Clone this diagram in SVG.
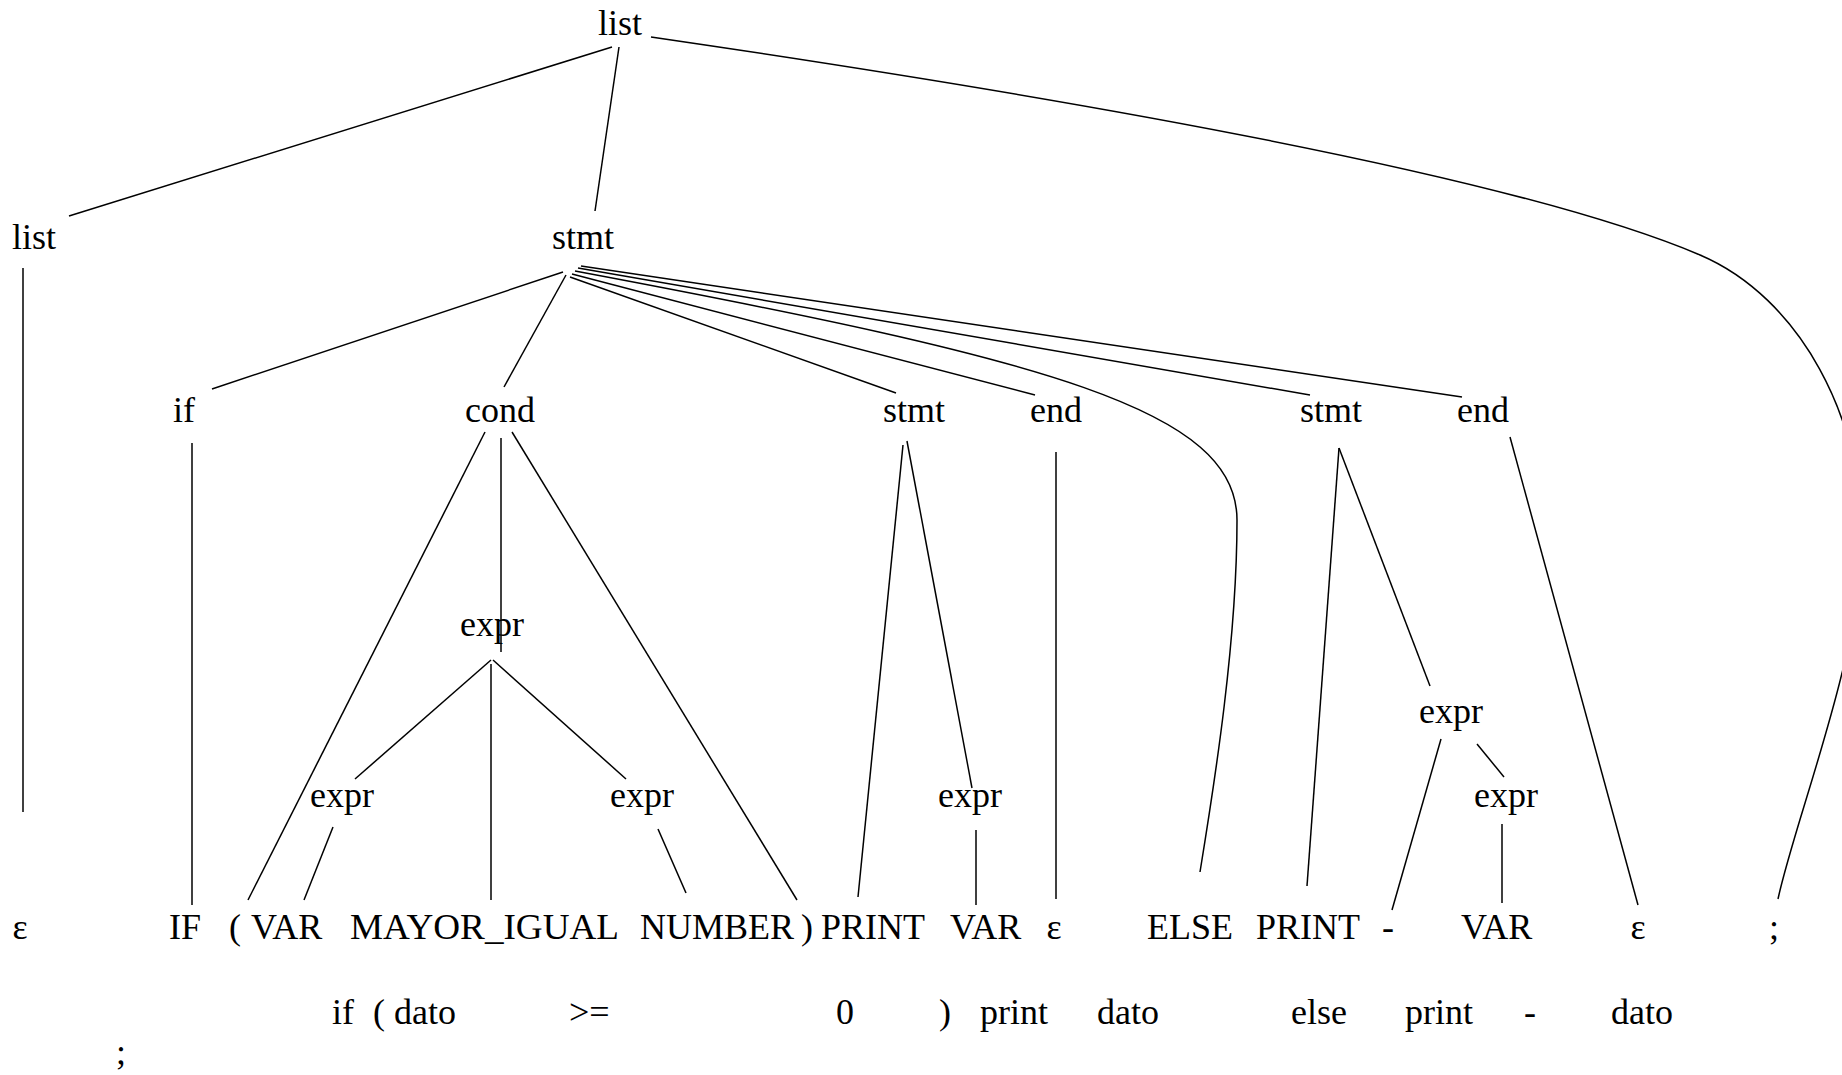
<svg xmlns="http://www.w3.org/2000/svg" width="1842" height="1075" viewBox="0 0 1842 1075">
<style>
text{font-family:"Liberation Serif","Times New Roman",serif;font-size:36px;fill:#000}
.m{text-anchor:middle}
.e{stroke:#000;stroke-width:1.5;fill:none}
</style>
<rect width="1842" height="1075" fill="#fff"/>
<g id="connectors" class="e">
<path class="e" d="M612,47 L69,216"/>
<path class="e" d="M619,47 L595,211"/>
<path class="e" d="M651,37 C1000,88 1500,170 1700,255 C1800,297.5 1865,420 1862,545 C1859,660 1795,820 1778,899"/>
<path class="e" d="M23,268 L23,812"/>
<path class="e" d="M563,272 L212,389"/>
<path class="e" d="M566,275 L504,387"/>
<path class="e" d="M570,277 L896,393"/>
<path class="e" d="M572,274 L1035,395"/>
<path class="e" d="M575,271 C1050,360 1237,410 1237,520 C1237,640 1215,780 1200,872"/>
<path class="e" d="M578,268 L1310,395"/>
<path class="e" d="M581,266 L1462,397"/>
<path class="e" d="M192,443 L192,905"/>
<path class="e" d="M485,432 L248,900"/>
<path class="e" d="M501,438 L501,652"/>
<path class="e" d="M512,432 L797,900"/>
<path class="e" d="M491,660 L355,779"/>
<path class="e" d="M491,664 L491,900"/>
<path class="e" d="M493,660 L626,779"/>
<path class="e" d="M333,827 L304,900"/>
<path class="e" d="M658,829 L686,893"/>
<path class="e" d="M903,445 L858,897"/>
<path class="e" d="M907,441 L972,788"/>
<path class="e" d="M976,830 L976,905"/>
<path class="e" d="M1056,452 L1056,899"/>
<path class="e" d="M1339,448 L1307,886"/>
<path class="e" d="M1339,448 L1430,686"/>
<path class="e" d="M1441,739 L1392,910"/>
<path class="e" d="M1477,744 L1504,777"/>
<path class="e" d="M1502,824 L1502,903"/>
<path class="e" d="M1510,437 L1638,905"/>
</g>
<g id="n_list_root"><text class="m" x="620" y="35">list</text></g>
<g id="n_list"><text class="m" x="34" y="249">list</text></g>
<g id="n_stmt"><text class="m" x="583" y="249">stmt</text></g>
<g id="n_if"><text class="m" x="184" y="422">if</text></g>
<g id="n_cond"><text class="m" x="500" y="422">cond</text></g>
<g id="n_stmt2"><text class="m" x="914" y="422">stmt</text></g>
<g id="n_end1"><text class="m" x="1056" y="422">end</text></g>
<g id="n_stmt3"><text class="m" x="1331" y="422">stmt</text></g>
<g id="n_end2"><text class="m" x="1483" y="422">end</text></g>
<g id="n_expr_c"><text class="m" x="492" y="636">expr</text></g>
<g id="n_expr_n"><text class="m" x="1451" y="723">expr</text></g>
<g id="n_expr1"><text class="m" x="342" y="807">expr</text></g>
<g id="n_expr2"><text class="m" x="642" y="807">expr</text></g>
<g id="n_expr3"><text class="m" x="970" y="807">expr</text></g>
<g id="n_expr4"><text class="m" x="1506" y="807">expr</text></g>
<g id="n_eps1"><text class="m" x="20" y="939">ε</text></g>
<g id="n_IF"><text x="169" y="939">IF</text></g>
<g id="n_lpar"><text x="229" y="939">(</text></g>
<g id="n_VAR1"><text x="251" y="939">VAR</text></g>
<g id="n_MAYOR"><text x="350" y="939" textLength="269" lengthAdjust="spacingAndGlyphs">MAYOR_IGUAL</text></g>
<g id="n_NUMBER"><text x="640" y="939">NUMBER</text></g>
<g id="n_rpar"><text x="801" y="939">)</text></g>
<g id="n_PRINT1"><text x="821" y="939">PRINT</text></g>
<g id="n_VAR2"><text x="950" y="939">VAR</text></g>
<g id="n_eps2"><text class="m" x="1054" y="939">ε</text></g>
<g id="n_ELSE"><text x="1147" y="939">ELSE</text></g>
<g id="n_PRINT2"><text x="1256" y="939">PRINT</text></g>
<g id="n_minus"><text x="1382" y="939">-</text></g>
<g id="n_VAR3"><text x="1461" y="939">VAR</text></g>
<g id="n_eps3"><text class="m" x="1638" y="939">ε</text></g>
<g id="n_semi"><text x="1769" y="939">;</text></g>
<g id="source">
<text x="332" y="1024">if</text>
<text x="373" y="1024">(</text>
<text x="394" y="1024">dato</text>
<text x="569" y="1024">&gt;=</text>
<text x="836" y="1024">0</text>
<text x="939" y="1024">)</text>
<text x="980" y="1024">print</text>
<text x="1097" y="1024">dato</text>
<text x="1291" y="1024">else</text>
<text x="1405" y="1024">print</text>
<text x="1524" y="1024">-</text>
<text x="1611" y="1024">dato</text>
<text x="116" y="1064">;</text>
</g>
</svg>
